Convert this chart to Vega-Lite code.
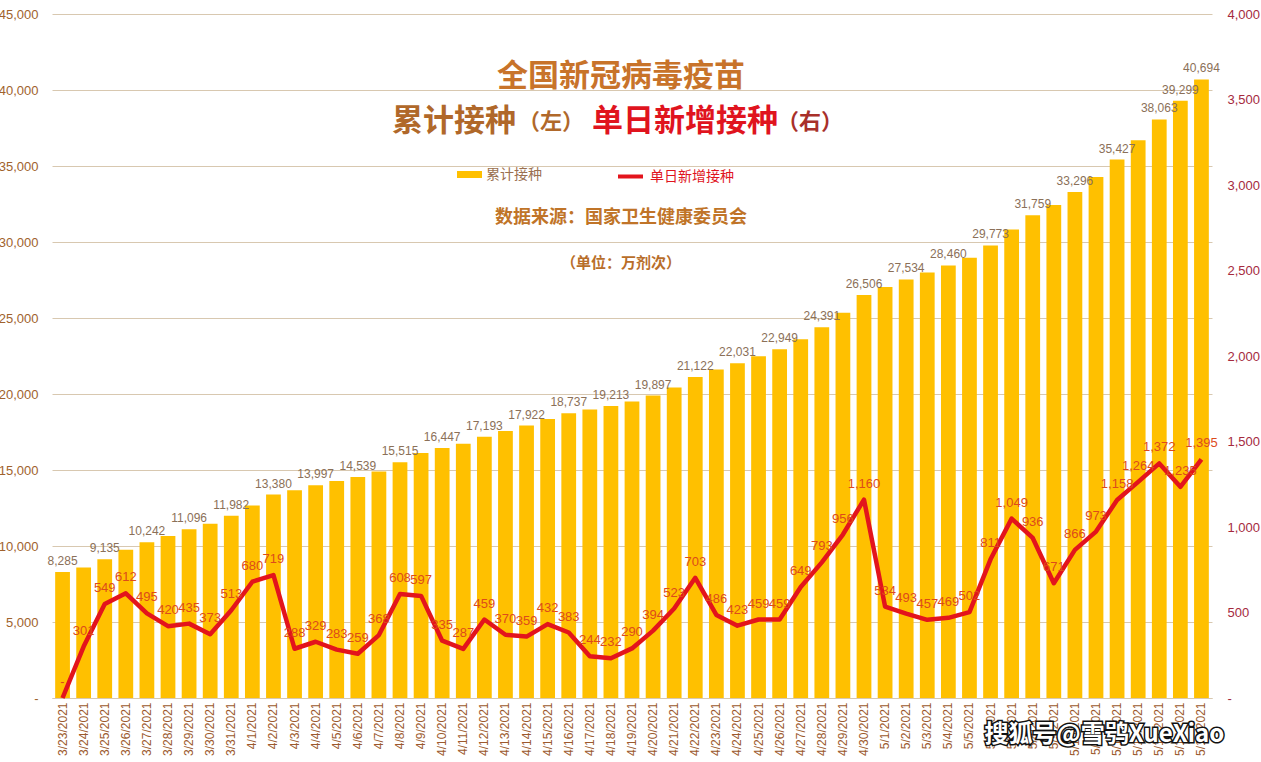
{
  "$schema": "https://vega.github.io/schema/vega-lite/v6.json",
  "width": 1160,
  "height": 684,
  "autosize": {"type": "none"},
  "padding": {"left": 52, "top": 14, "right": 49, "bottom": 64},
  "background": "#ffffff",
  "config": {
    "view": {"stroke": null},
    "font": "Liberation Sans Narrow, Liberation Sans, sans-serif",
    "axis": {"labelFont": "Liberation Sans Narrow, Liberation Sans, sans-serif"}
  },
  "data": {
    "values": [
      {"date": "3/23/2021", "cum": 8285, "daily": 0, "cumLabel": "8,285", "dailyLabel": "-"},
      {"date": "3/24/2021", "cum": 8586, "daily": 301, "cumLabel": "", "dailyLabel": "301"},
      {"date": "3/25/2021", "cum": 9135, "daily": 549, "cumLabel": "9,135", "dailyLabel": "549"},
      {"date": "3/26/2021", "cum": 9747, "daily": 612, "cumLabel": "", "dailyLabel": "612"},
      {"date": "3/27/2021", "cum": 10242, "daily": 495, "cumLabel": "10,242", "dailyLabel": "495"},
      {"date": "3/28/2021", "cum": 10662, "daily": 420, "cumLabel": "", "dailyLabel": "420"},
      {"date": "3/29/2021", "cum": 11096, "daily": 435, "cumLabel": "11,096", "dailyLabel": "435"},
      {"date": "3/30/2021", "cum": 11469, "daily": 373, "cumLabel": "", "dailyLabel": "373"},
      {"date": "3/31/2021", "cum": 11982, "daily": 513, "cumLabel": "11,982", "dailyLabel": "513"},
      {"date": "4/1/2021", "cum": 12662, "daily": 680, "cumLabel": "", "dailyLabel": "680"},
      {"date": "4/2/2021", "cum": 13380, "daily": 719, "cumLabel": "13,380", "dailyLabel": "719"},
      {"date": "4/3/2021", "cum": 13668, "daily": 288, "cumLabel": "", "dailyLabel": "288"},
      {"date": "4/4/2021", "cum": 13997, "daily": 329, "cumLabel": "13,997", "dailyLabel": "329"},
      {"date": "4/5/2021", "cum": 14280, "daily": 283, "cumLabel": "", "dailyLabel": "283"},
      {"date": "4/6/2021", "cum": 14539, "daily": 259, "cumLabel": "14,539", "dailyLabel": "259"},
      {"date": "4/7/2021", "cum": 14907, "daily": 368, "cumLabel": "", "dailyLabel": "368"},
      {"date": "4/8/2021", "cum": 15515, "daily": 608, "cumLabel": "15,515", "dailyLabel": "608"},
      {"date": "4/9/2021", "cum": 16112, "daily": 597, "cumLabel": "", "dailyLabel": "597"},
      {"date": "4/10/2021", "cum": 16447, "daily": 335, "cumLabel": "16,447", "dailyLabel": "335"},
      {"date": "4/11/2021", "cum": 16734, "daily": 287, "cumLabel": "", "dailyLabel": "287"},
      {"date": "4/12/2021", "cum": 17193, "daily": 459, "cumLabel": "17,193", "dailyLabel": "459"},
      {"date": "4/13/2021", "cum": 17563, "daily": 370, "cumLabel": "", "dailyLabel": "370"},
      {"date": "4/14/2021", "cum": 17922, "daily": 359, "cumLabel": "17,922", "dailyLabel": "359"},
      {"date": "4/15/2021", "cum": 18354, "daily": 432, "cumLabel": "", "dailyLabel": "432"},
      {"date": "4/16/2021", "cum": 18737, "daily": 383, "cumLabel": "18,737", "dailyLabel": "383"},
      {"date": "4/17/2021", "cum": 18981, "daily": 244, "cumLabel": "", "dailyLabel": "244"},
      {"date": "4/18/2021", "cum": 19213, "daily": 232, "cumLabel": "19,213", "dailyLabel": "232"},
      {"date": "4/19/2021", "cum": 19503, "daily": 290, "cumLabel": "", "dailyLabel": "290"},
      {"date": "4/20/2021", "cum": 19897, "daily": 394, "cumLabel": "19,897", "dailyLabel": "394"},
      {"date": "4/21/2021", "cum": 20420, "daily": 523, "cumLabel": "", "dailyLabel": "523"},
      {"date": "4/22/2021", "cum": 21122, "daily": 703, "cumLabel": "21,122", "dailyLabel": "703"},
      {"date": "4/23/2021", "cum": 21608, "daily": 486, "cumLabel": "", "dailyLabel": "486"},
      {"date": "4/24/2021", "cum": 22031, "daily": 423, "cumLabel": "22,031", "dailyLabel": "423"},
      {"date": "4/25/2021", "cum": 22490, "daily": 459, "cumLabel": "", "dailyLabel": "459"},
      {"date": "4/26/2021", "cum": 22949, "daily": 459, "cumLabel": "22,949", "dailyLabel": "459"},
      {"date": "4/27/2021", "cum": 23598, "daily": 649, "cumLabel": "", "dailyLabel": "649"},
      {"date": "4/28/2021", "cum": 24391, "daily": 793, "cumLabel": "24,391", "dailyLabel": "793"},
      {"date": "4/29/2021", "cum": 25347, "daily": 956, "cumLabel": "", "dailyLabel": "956"},
      {"date": "4/30/2021", "cum": 26506, "daily": 1160, "cumLabel": "26,506", "dailyLabel": "1,160"},
      {"date": "5/1/2021", "cum": 27040, "daily": 534, "cumLabel": "", "dailyLabel": "534"},
      {"date": "5/2/2021", "cum": 27534, "daily": 493, "cumLabel": "27,534", "dailyLabel": "493"},
      {"date": "5/3/2021", "cum": 27991, "daily": 457, "cumLabel": "", "dailyLabel": "457"},
      {"date": "5/4/2021", "cum": 28460, "daily": 469, "cumLabel": "28,460", "dailyLabel": "469"},
      {"date": "5/5/2021", "cum": 28962, "daily": 502, "cumLabel": "", "dailyLabel": "502"},
      {"date": "5/6/2021", "cum": 29773, "daily": 811, "cumLabel": "29,773", "dailyLabel": "811"},
      {"date": "5/7/2021", "cum": 30822, "daily": 1049, "cumLabel": "", "dailyLabel": "1,049"},
      {"date": "5/8/2021", "cum": 31759, "daily": 936, "cumLabel": "31,759", "dailyLabel": "936"},
      {"date": "5/9/2021", "cum": 32430, "daily": 671, "cumLabel": "", "dailyLabel": "671"},
      {"date": "5/10/2021", "cum": 33296, "daily": 866, "cumLabel": "33,296", "dailyLabel": "866"},
      {"date": "5/11/2021", "cum": 34269, "daily": 973, "cumLabel": "", "dailyLabel": "973"},
      {"date": "5/12/2021", "cum": 35427, "daily": 1158, "cumLabel": "35,427", "dailyLabel": "1,158"},
      {"date": "5/13/2021", "cum": 36691, "daily": 1264, "cumLabel": "", "dailyLabel": "1,264"},
      {"date": "5/14/2021", "cum": 38063, "daily": 1372, "cumLabel": "38,063", "dailyLabel": "1,372"},
      {"date": "5/15/2021", "cum": 39299, "daily": 1235, "cumLabel": "39,299", "dailyLabel": "1,235"},
      {"date": "5/16/2021", "cum": 40694, "daily": 1395, "cumLabel": "40,694", "dailyLabel": "1,395"}
    ]
  },
  "encoding": {
    "x": {
      "field": "date",
      "type": "ordinal",
      "sort": null,
      "scale": {"paddingInner": 0.3, "paddingOuter": 0.15},
      "axis": {
        "title": null,
        "labelAngle": 270,
        "labelColor": "#9C5A2E",
        "labelFontSize": 12,
        "ticks": false,
        "domainColor": "#D8C8B0",
        "labelPadding": 4
      }
    }
  },
  "layer": [
    {
      "layer": [
        {
          "mark": {"type": "bar"},
          "encoding": {
            "y": {
              "field": "cum",
              "type": "quantitative",
              "scale": {"domain": [0, 45000], "nice": false},
              "axis": {
                "orient": "left",
                "title": null,
                "values": [0, 5000, 10000, 15000, 20000, 25000, 30000, 35000, 40000, 45000],
                "labelExpr": "datum.value == 0 ? '-' : format(datum.value, ',')",
                "labelColor": "#A0622D",
                "labelFontSize": 13,
                "grid": true,
                "gridColor": "#D8C8B0",
                "domain": false,
                "ticks": false,
                "labelPadding": 14
              }
            },
            "color": {
              "datum": "累计接种",
              "scale": {"range": ["#FFC000"]},
              "legend": {
                "title": null,
                "orient": "none",
                "legendX": 405,
                "legendY": 148,
                "padding": 0,
                "symbolType": "M-1,-0.28H1V0.28H-1Z",
                "symbolSize": 625,
                "symbolStrokeWidth": 0,
                "labelFont": "Noto Sans CJK SC",
                "labelFontSize": 14,
                "labelColor": "#9A7050",
                "labelOffset": 4
              }
            }
          }
        },
        {
          "mark": {"type": "text", "baseline": "bottom", "dy": -4, "fontSize": 12, "color": "#8B7058"},
          "encoding": {
            "y": {"field": "cum", "type": "quantitative"},
            "text": {"field": "cumLabel"}
          }
        },
        {
          "transform": [{"filter": "datum.date == '4/18/2021'"}],
          "mark": {"type": "text", "text": "全国新冠病毒疫苗", "font": "Noto Sans CJK SC", "fontWeight": "bold", "fontSize": 31, "color": "#C8732A", "align": "center", "baseline": "middle", "dx": 10},
          "encoding": {"y": {"datum": 40855, "type": "quantitative"}}
        },
        {
          "transform": [{"filter": "datum.date == '4/18/2021'"}],
          "mark": {"type": "text", "text": "累计接种", "font": "Noto Sans CJK SC", "fontWeight": "bold", "fontSize": 31, "color": "#B0682A", "align": "left", "baseline": "middle", "dx": -219},
          "encoding": {"y": {"datum": 37895, "type": "quantitative"}}
        },
        {
          "transform": [{"filter": "datum.date == '4/18/2021'"}],
          "mark": {"type": "text", "text": "（左）", "font": "Noto Sans CJK SC", "fontWeight": "bold", "fontSize": 22, "color": "#B0682A", "align": "left", "baseline": "middle", "dx": -93},
          "encoding": {"y": {"datum": 37895, "type": "quantitative"}}
        },
        {
          "transform": [{"filter": "datum.date == '4/18/2021'"}],
          "mark": {"type": "text", "text": "单日新增接种", "font": "Noto Sans CJK SC", "fontWeight": "bold", "fontSize": 31, "color": "#E0141E", "align": "left", "baseline": "middle", "dx": -19},
          "encoding": {"y": {"datum": 37895, "type": "quantitative"}}
        },
        {
          "transform": [{"filter": "datum.date == '4/18/2021'"}],
          "mark": {"type": "text", "text": "（右）", "font": "Noto Sans CJK SC", "fontWeight": "bold", "fontSize": 22, "color": "#A8302A", "align": "left", "baseline": "middle", "dx": 166},
          "encoding": {"y": {"datum": 37895, "type": "quantitative"}}
        },
        {
          "transform": [{"filter": "datum.date == '4/18/2021'"}],
          "mark": {"type": "text", "text": "数据来源：国家卫生健康委员会", "font": "Noto Sans CJK SC", "fontWeight": "bold", "fontSize": 18, "color": "#C07428", "align": "center", "baseline": "middle", "dx": 10},
          "encoding": {"y": {"datum": 31579, "type": "quantitative"}}
        },
        {
          "transform": [{"filter": "datum.date == '4/18/2021'"}],
          "mark": {"type": "text", "text": "（单位：万剂次）", "font": "Noto Sans CJK SC", "fontWeight": "bold", "fontSize": 15, "color": "#B86E2A", "align": "center", "baseline": "middle", "dx": 10},
          "encoding": {"y": {"datum": 28618, "type": "quantitative"}}
        },
        {
          "transform": [{"filter": "datum.date == '5/6/2021'"}],
          "mark": {"type": "text", "text": "搜狐号@雪鸮XueXiao", "font": "Noto Sans CJK SC", "fontWeight": "bold", "fontSize": 24, "color": "#111111", "stroke": "#111111", "strokeWidth": 3, "align": "left", "baseline": "middle", "dx": -6},
          "encoding": {"y": {"datum": -2434, "type": "quantitative"}}
        },
        {
          "transform": [{"filter": "datum.date == '5/6/2021'"}],
          "mark": {"type": "text", "text": "搜狐号@雪鸮XueXiao", "font": "Noto Sans CJK SC", "fontWeight": "bold", "fontSize": 24, "color": "#FFFFFF", "align": "left", "baseline": "middle", "dx": -6},
          "encoding": {"y": {"datum": -2434, "type": "quantitative"}}
        }
      ]
    },
    {
      "layer": [
        {
          "mark": {"type": "line", "strokeWidth": 4.5, "strokeJoin": "round"},
          "encoding": {
            "y": {
              "field": "daily",
              "type": "quantitative",
              "scale": {"domain": [0, 4000], "nice": false},
              "axis": {
                "orient": "right",
                "title": null,
                "values": [0, 500, 1000, 1500, 2000, 2500, 3000, 3500, 4000],
                "labelExpr": "datum.value == 0 ? '-' : format(datum.value, ',')",
                "labelColor": "#A52A3E",
                "labelFontSize": 13,
                "grid": false,
                "domain": false,
                "ticks": false,
                "labelPadding": 15
              }
            },
            "stroke": {
              "datum": "单日新增接种",
              "scale": {"range": ["#E3141C"]},
              "legend": {
                "title": null,
                "orient": "none",
                "legendX": 564,
                "legendY": 148,
                "padding": 0,
                "symbolType": "stroke",
                "symbolSize": 625,
                "symbolStrokeWidth": 4,
                "labelFont": "Noto Sans CJK SC",
                "labelFontSize": 14,
                "labelColor": "#E0141E",
                "labelOffset": 5
              }
            }
          }
        },
        {
          "mark": {"type": "text", "baseline": "bottom", "dy": -9, "fontSize": 13, "color": "#DD4B1A"},
          "encoding": {
            "y": {"field": "daily", "type": "quantitative"},
            "text": {"field": "dailyLabel"}
          }
        }
      ]
    }
  ],
  "resolve": {"scale": {"y": "independent", "color": "independent", "stroke": "independent"}, "axis": {"y": "independent"}}
}
